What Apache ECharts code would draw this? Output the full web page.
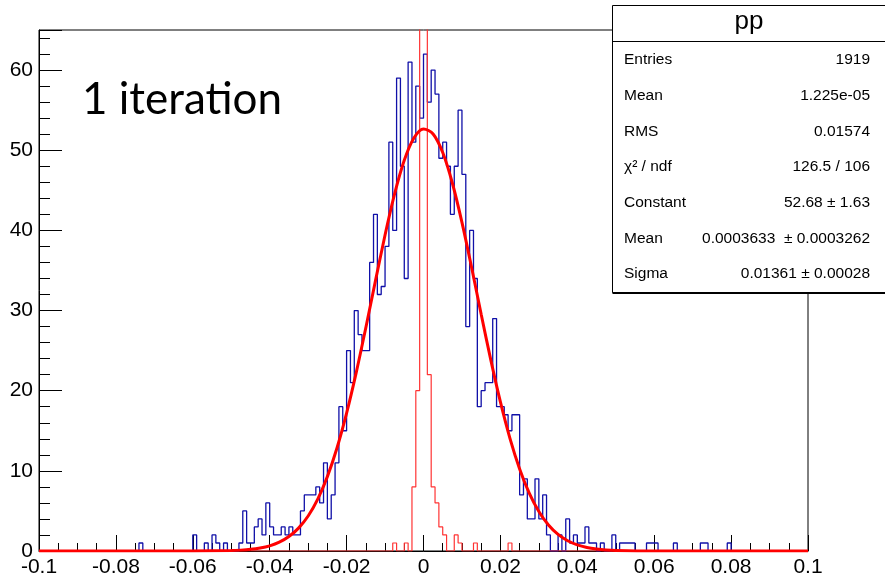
<!DOCTYPE html>
<html><head><meta charset="utf-8">
<script src="https://cdn.jsdelivr.net/npm/echarts/dist/echarts.min.js"></script>
<style>html,body{margin:0;padding:0;background:#fff}#c{width:885px;height:577px}</style>
</head><body><div id="c"></div>
<script>
// ---- data ----
const binMin = -0.1, binMax = 0.1, binWidth = 0.001, nBins = 200;
// blue histogram "pp": counts for bins starting at bin index -75 (x = -0.075)
const blueFirstBin = -75;
const blueCounts = [
 0,1,0,0,0,0,0,0,0,0, 0,0,0,0,0,2,0,0,1,0,
 2,1,0,1,0,0,0,1,5,1, 1,3,4,2,6,3,2,2,3,2,
 3,2,2,5,7,7,7,8,6,11, 4,7,11,18,15,25,21,30,27,25,
 25,36,42,32,33,38,51,40,59,48, 34,61,51,58,54,
 62,56,60,57,49,51,48,42,48,55, 47,28,40,34,18,20,21,21,29,18,
 18,17,15,17,17,7,9,4,4,9, 4,7,2,0,0,2,0,4,1,2,
 1,1,3,1,1,0,1,0,0,2, 0,1,1,1,1,0,0,0,1,1,
 1,0,0,0,0,1,0,0,0,0, 0,0,1,1,0,0,0,0,0,1
];
// red narrow histogram: counts for bins starting at bin index -8
const redFirstBin = -8;
const redCounts = [1,0,0,1,0,8,20,150,150,22,8,6,3,2,0,0,2,1,0,0,0,1,0,0,0,0,0,0,0,0,1];
// Gaussian fit curve sampled points
const fitX = [-0.1,-0.06,-0.05,-0.0475,-0.045,-0.0425,-0.04,-0.0375,-0.035,-0.0325,-0.03,-0.0275,-0.025,-0.0225,-0.02,-0.0175,-0.015,-0.0125,-0.01,-0.0075,-0.005,-0.0025,0,0.0025,0.005,0.0075,0.01,0.0125,0.015,0.0175,0.02,0.0225,0.025,0.0275,0.03,0.0325,0.035,0.0375,0.04,0.0425,0.045,0.0475,0.05,0.06,0.1];
const fitY = [0,0.003,0.056,0.109,0.204,0.370,0.647,1.099,1.801,2.856,4.372,6.478,9.279,12.85,17.20,22.26,27.86,33.70,39.42,44.58,48.74,51.53,52.66,52.03,49.71,45.91,41.00,35.40,29.54,23.84,18.60,14.03,10.24,7.217,4.920,3.243,2.067,1.273,0.758,0.437,0.243,0.131,0.068,0.004,0];
const statTitle = 'pp';
const statLabels = ['Entries','Mean','RMS','\u03c7\u00b2 / ndf','Constant','Mean','Sigma'];
const statValues = ['1919','1.225e-05','0.01574','126.5 / 106','52.68 \u00b1 1.63','0.0003633  \u00b1 0.0003262','0.01361 \u00b1 0.00028'];
const annotation = '1 iteration';

// ---- build ----
function histPoints(first, counts){
  const full = new Array(nBins).fill(0);
  counts.forEach((c,i)=>{ const k = first + 100 + i; if (k>=0 && k<nBins) full[k] = c; });
  const pts = full.map((c,k)=>[+(binMin + k*binWidth).toFixed(4), c]);
  pts.push([binMax, full[nBins-1]]);
  return pts;
}
const font = 'Liberation Sans, Arial, Helvetica, sans-serif';
const chart = echarts.init(document.getElementById('c'), null, {renderer:'canvas'});
const graphics = [];
const bx = 612.5, by = 5.5, bw = 280, bh = 287;
graphics.push({type:'rect', z:100, shape:{x:bx, y:by, width:bw, height:bh}, style:{fill:'#fff', stroke:'#000', lineWidth:1}});
graphics.push({type:'line', z:101, shape:{x1:bx, y1:by+bh+0.5, x2:885, y2:by+bh+0.5}, style:{stroke:'#000', lineWidth:2}});
graphics.push({type:'line', z:101, shape:{x1:bx, y1:41.5, x2:885, y2:41.5}, style:{stroke:'#000', lineWidth:1}});
graphics.push({type:'text', z:102, x:749, y:22, style:{text:statTitle, font:'26px '+font, fill:'#000', align:'center', verticalAlign:'middle'}});
statLabels.forEach((l,i)=>{
  const yy = 60 + i*35.7;
  graphics.push({type:'text', z:102, x:624, y:yy, style:{text:l, font:'15.5px '+font, fill:'#000', align:'left', verticalAlign:'middle'}});
  graphics.push({type:'text', z:102, x:870, y:yy, style:{text:statValues[i], font:'15.5px '+font, fill:'#000', align:'right', verticalAlign:'middle'}});
});
graphics.push({type:'text', z:102, x:82, y:100, style:{text:annotation, font:'44px Lato, "Open Sans", sans-serif', fill:'#000', align:'left', verticalAlign:'middle'}});

const option = {
  animation:false,
  backgroundColor:'#fff',
  grid:{left:39, right:77, top:30, bottom:26, show:true, borderColor:'#000', borderWidth:1, containLabel:false, outerBoundsMode:'none'},
  xAxis:{type:'value', min:binMin, max:binMax, interval:0.02,
    axisLine:{show:true, onZero:false, lineStyle:{color:'#000', width:1}},
    axisTick:{show:true, inside:true, length:16, lineStyle:{color:'#000', width:1}},
    minorTick:{show:true, splitNumber:4, length:8, lineStyle:{color:'#000', width:1}},
    splitLine:{show:false}, minorSplitLine:{show:false},
    axisLabel:{color:'#000', fontSize:21, fontFamily:font, margin:6, showMinLabel:true, showMaxLabel:true, hideOverlap:false,
      formatter:v=>String(+(+v).toFixed(3))}},
  yAxis:[
    {type:'value', min:0, max:65, interval:10,
     axisLine:{show:true, onZero:false, lineStyle:{color:'#000', width:1}},
     axisTick:{show:true, inside:true, length:23, lineStyle:{color:'#000', width:1}},
     splitLine:{show:false},
     axisLabel:{color:'#000', fontSize:21, fontFamily:font, margin:6, formatter:v=>(v%10===0?String(v):'')}},
    {type:'value', min:0, max:65, interval:2, position:'left',
     axisLine:{show:false, onZero:false}, axisTick:{show:true, inside:true, length:11, lineStyle:{color:'#000', width:1}},
     splitLine:{show:false}, axisLabel:{show:false}}
  ],
  series:[
    {type:'line', name:'pp', data:histPoints(blueFirstBin, blueCounts), step:'end', symbol:'none', clip:true,
     lineStyle:{color:'#1010a8', width:1.3}, z:2},
    {type:'line', name:'narrow', data:histPoints(redFirstBin, redCounts), step:'end', symbol:'none', clip:true,
     lineStyle:{color:'#ff3333', width:1.2}, z:3},
    {type:'line', name:'fit', data:fitX.map((x,i)=>[x, fitY[i]]), smooth:0.3, symbol:'none', clip:true,
     lineStyle:{color:'#ff0000', width:3}, z:4}
  ],
  graphic:graphics
};
chart.setOption(option);
</script></body></html>
